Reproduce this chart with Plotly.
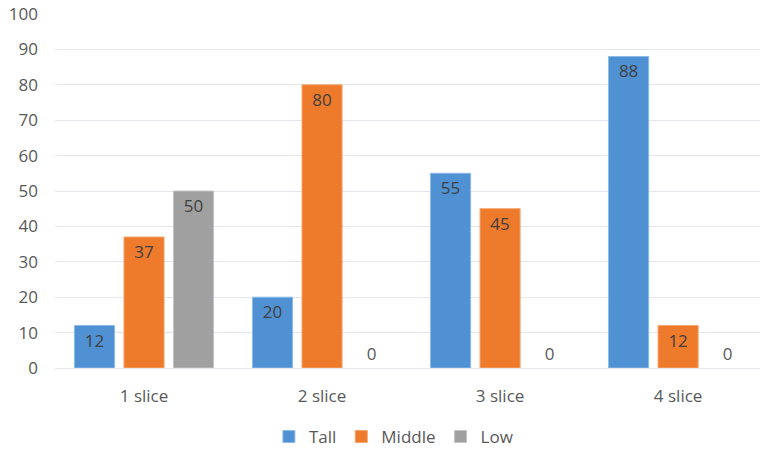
import plotly.graph_objects as go

categories = ["1 slice", "2 slice", "3 slice", "4 slice"]
tall = [12, 20, 55, 88]
middle = [37, 80, 45, 12]
low = [50, 0, 0, 0]
series_names = ["Tall", "Middle", "Low"]
y_ticks = [0, 10, 20, 30, 40, 50, 60, 70, 80, 90, 100]

colors = ["#4f91d3", "#ee7a2c", "#a0a0a0"]
edge_colors = ["#8cbbe8", "#f6a56c", "#c4c4c4"]
FONT = "Open Sans"
TXT = "#595959"
FS = 17

fig = go.Figure()
for name, vals, c, ec in zip(series_names, [tall, middle, low], colors, edge_colors):
    fig.add_trace(go.Bar(
        name=name, x=categories, y=vals,
        marker=dict(color=c, line=dict(color=ec, width=[1 if v > 0 else 0 for v in vals])),
        text=[str(v) for v in vals],
        textposition=["inside" if v > 0 else "outside" for v in vals],
        insidetextanchor="end",
        textangle=0,
        textfont=dict(family=FONT, size=FS, color="#404040"),
        outsidetextfont=dict(family=FONT, size=FS, color=TXT),
        cliponaxis=False,
    ))

fig.update_layout(
    width=760, height=450,
    margin=dict(l=55, r=0, t=14, b=82),
    paper_bgcolor="white", plot_bgcolor="white",
    barmode="group", bargap=0.166, bargroupgap=0.19,
    font=dict(family=FONT, size=FS, color=TXT),
    showlegend=True,
    legend=dict(orientation="h", x=0.48, xanchor="center", xref="paper",
                y=0.029, yref="container", yanchor="middle",
                font=dict(family=FONT, size=FS, color=TXT),
                itemwidth=30, tracegroupgap=0),
    xaxis=dict(range=[-0.5, 3.46], showgrid=False, showline=False, zeroline=False,
               ticks="", ticklabelstandoff=16,
               tickfont=dict(family=FONT, size=FS, color=TXT)),
    yaxis=dict(range=[0, 100], tickvals=y_ticks, showgrid=True, gridcolor="#e3e6ec",
               gridwidth=1, zeroline=True, zerolinecolor="#e3e6ec", zerolinewidth=1,
               showline=False, ticks="", ticklabelstandoff=16,
               tickfont=dict(family=FONT, size=FS, color=TXT)),
)

fig.write_html("out.html")
